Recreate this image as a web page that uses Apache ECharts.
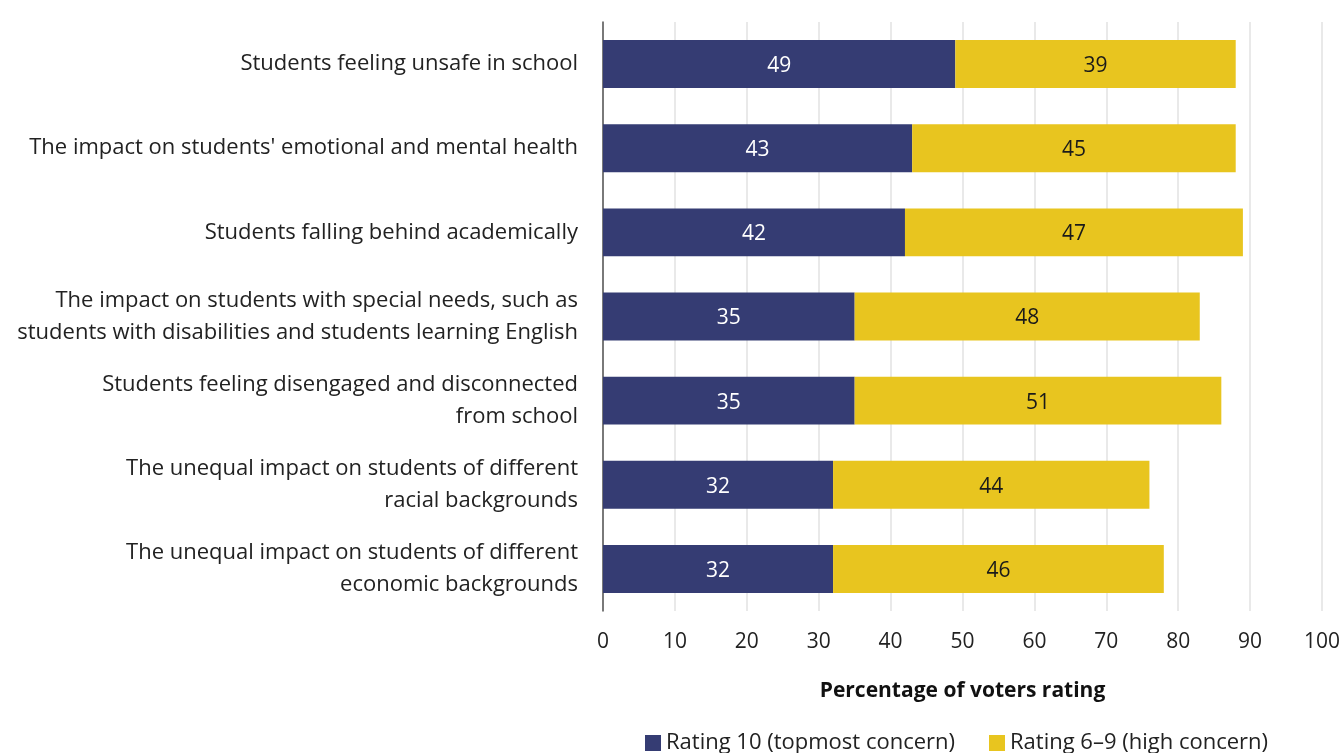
<!DOCTYPE html>
<html>
<head>
<meta charset="utf-8">
<title>Voter concerns about students</title>
<script src="https://cdn.jsdelivr.net/npm/echarts@6/dist/echarts.min.js"></script>
<style>
  html, body { margin: 0; padding: 0; background: #ffffff; }
  #chart { width: 1343px; height: 753px; }
</style>
</head>
<body>
<div id="chart"></div>
<script>
// Concern items, listed top to bottom
const categories = [
  'Students feeling unsafe in school',
  "The impact on students' emotional and mental health",
  'Students falling behind academically',
  'The impact on students with special needs, such as\nstudents with disabilities and students learning English',
  'Students feeling disengaged and disconnected\nfrom school',
  'The unequal impact on students of different\nracial backgrounds',
  'The unequal impact on students of different\neconomic backgrounds'
];

// Share of voters giving each rating (%)
const topmostConcern = [49, 43, 42, 35, 35, 32, 32];
const highConcern = [39, 45, 47, 48, 51, 44, 46];

const seriesNames = ['Rating 10 (topmost concern)', 'Rating 6\u20139 (high concern)'];
const axisTitle = 'Percentage of voters rating';

const FONT = '"Open Sans", Lato, sans-serif';
const FS = 22;
const NAVY = '#353c73';
const GOLD = '#e8c51f';

const chart = echarts.init(document.getElementById('chart'), null, { renderer: 'canvas' });

chart.setOption({
  animation: false,
  textStyle: { fontFamily: FONT },
  grid: { left: 603, right: 21, top: 22, bottom: 142, containLabel: false },
  legend: {
    data: seriesNames,
    left: 640,
    top: 727,
    itemWidth: 16,
    itemHeight: 16,
    itemGap: 34,
    icon: 'rect',
    textStyle: { fontFamily: FONT, fontSize: FS, color: '#222' }
  },
  xAxis: {
    type: 'value',
    min: 0,
    max: 100,
    interval: 10,
    name: axisTitle,
    nameLocation: 'middle',
    nameGap: 70,
    nameTextStyle: { fontFamily: FONT, fontSize: FS - 1, fontWeight: 'bold', color: '#111' },
    axisLine: { show: false },
    axisTick: { show: false },
    axisLabel: { fontFamily: FONT, fontSize: FS - 1, color: '#222', margin: 21 },
    splitLine: { show: true, lineStyle: { color: '#e2e2e2', width: 1.5 } }
  },
  yAxis: {
    type: 'category',
    data: categories,
    inverse: true,
    axisLine: { show: true, lineStyle: { color: '#555', width: 1.5 } },
    axisTick: { show: false },
    axisLabel: {
      fontFamily: FONT,
      fontSize: FS,
      color: '#222',
      margin: 25,
      lineHeight: 32,
      align: 'right',
      padding: [6, 0, 0, 0]
    }
  },
  series: [
    {
      name: seriesNames[0],
      type: 'bar',
      stack: 'rating',
      data: topmostConcern,
      barCategoryGap: '43%',
      itemStyle: { color: NAVY },
      label: {
        show: true,
        position: 'inside',
        offset: [0, 2],
        fontFamily: FONT,
        fontSize: FS - 1,
        color: '#ffffff'
      }
    },
    {
      name: seriesNames[1],
      type: 'bar',
      stack: 'rating',
      data: highConcern,
      barCategoryGap: '43%',
      itemStyle: { color: GOLD },
      label: {
        show: true,
        position: 'inside',
        offset: [0, 2],
        fontFamily: FONT,
        fontSize: FS - 1,
        color: '#1a1a1a'
      }
    }
  ]
});
</script>
</body>
</html>
